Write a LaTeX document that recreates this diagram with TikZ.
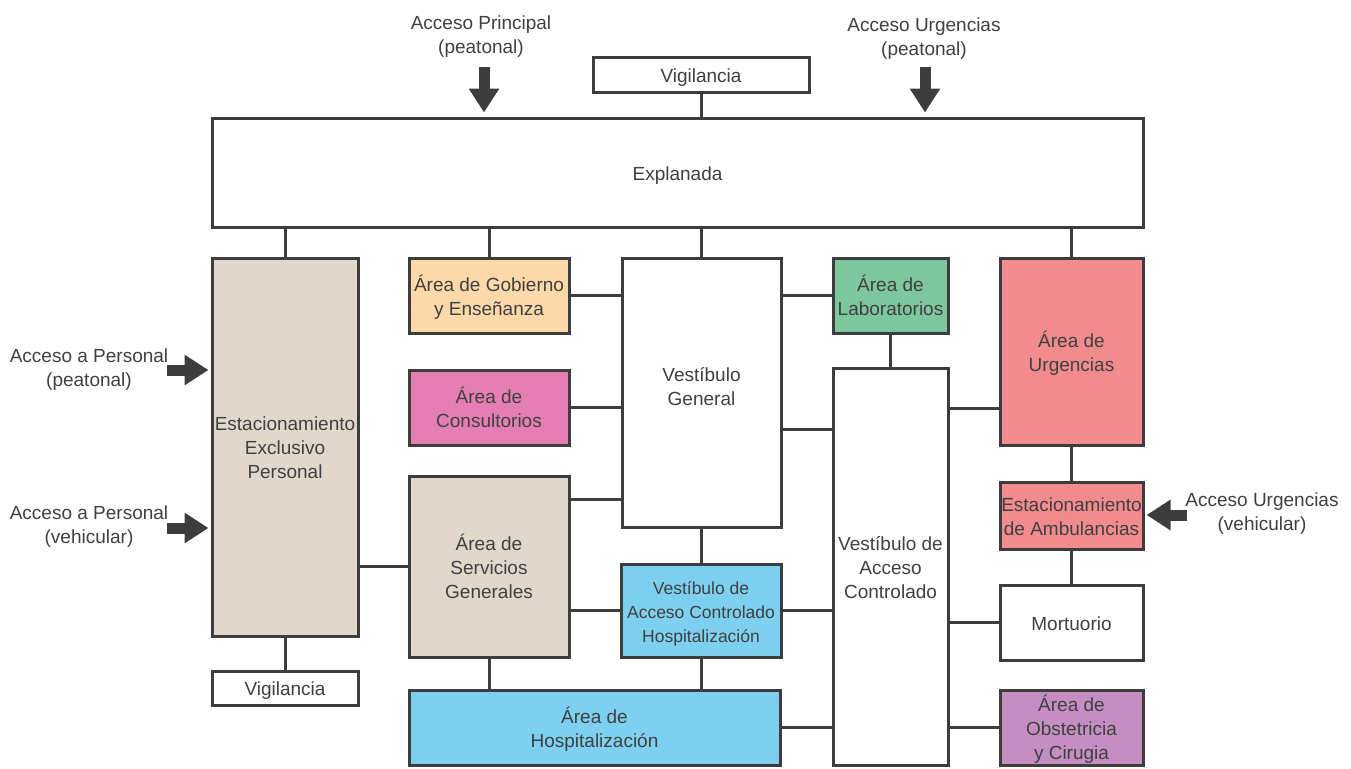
\documentclass[tikz,border=0pt]{standalone}
\usepackage{fontspec}
\setmainfont{Liberation Sans}
\usetikzlibrary{arrows.meta}
\definecolor{linec}{HTML}{3D3D3D}
\definecolor{txtc}{HTML}{404040}
\definecolor{beige}{HTML}{E0D8CB}
\definecolor{orangec}{HTML}{FDD9AA}
\definecolor{pinkc}{HTML}{E57EB3}
\definecolor{greenc}{HTML}{7DC79E}
\definecolor{redc}{HTML}{F28B8E}
\definecolor{bluec}{HTML}{7DD0F0}
\definecolor{purplec}{HTML}{C58EC2}
\tikzset{
  box/.style={draw=linec, line width=3pt, fill=white, rectangle, inner sep=0pt,
    align=center, text=txtc, font=\fontsize{19}{24}\selectfont},
  lbl/.style={align=center, text=txtc, inner sep=0pt, font=\fontsize{19}{24}\selectfont},
  conn/.style={draw=linec, line width=3pt},
  bigarrow/.style={draw=linec, line width=11pt, -{Triangle[width=29pt,length=24pt]}}
}
\newcommand{\lines}[2]{\raisebox{#1}[\height][\depth]{\begin{tabular}{@{}c@{}}#2\end{tabular}}}
\newcommand{\bx}[7]{\node[box, fill=#6, minimum width=#4pt, minimum height=#5pt] (#1) at (#2,#3) {\lines{-3pt}{#7}};}
\begin{document}
\begin{tikzpicture}[x=1pt,y=-1pt]
\useasboundingbox (0,0) rectangle (1351,768);
% boxes
\bx{vigT}{701}{75}{216}{34}{white}{Vigilancia}
\bx{expl}{677.5}{172.5}{931}{109}{white}{Explanada}
\bx{estE}{285}{447}{146}{378}{beige}{Estacionamiento\\Exclusivo\\Personal}
\bx{vigB}{285}{688}{146}{34}{white}{Vigilancia}
\bx{gob}{489}{295.5}{160}{75}{orangec}{Área de Gobierno\\y Enseñanza}
\bx{cons}{489}{407.5}{160}{75}{pinkc}{Área de\\Consultorios}
\bx{serv}{489}{566.5}{160}{181}{beige}{Área de\\Servicios\\Generales}
\node[box, minimum width=159pt, minimum height=269pt] (vgen) at (701.5,392.5) {\lines{3.5pt}{Vestíbulo\\General}};
\node[box, fill=bluec, minimum width=160pt, minimum height=93pt, font=\fontsize{17.5}{24}\selectfont] (vach) at (701,610.5) {\lines{-3pt}{Vestíbulo de\\Acceso Controlado\\Hospitalización}};
\bx{hosp}{594.5}{727.5}{371}{75}{bluec}{Área de\\Hospitalización}
\bx{lab}{890.5}{295.5}{115}{75}{greenc}{Área de\\Laboratorios}
\bx{vac}{890.5}{566.5}{115}{397}{white}{Vestíbulo de\\Acceso\\Controlado}
\bx{urg}{1071.5}{351.5}{143}{187}{redc}{Área de\\Urgencias}
\bx{amb}{1071.5}{515.5}{143}{67}{redc}{Estacionamiento\\de Ambulancias}
\bx{mort}{1071.5}{622.5}{143}{75}{white}{Mortuorio}
\bx{obs}{1071.5}{727.5}{143}{75}{purplec}{Área de\\Obstetricia\\y Cirugia}
% connectors
\draw[conn] (vigT.south) -- (vigT.south |- expl.north);
\draw[conn] (estE.north) -- (estE.north |- expl.south);
\draw[conn] (gob.north) -- (gob.north |- expl.south);
\draw[conn] (vgen.north) -- (vgen.north |- expl.south);
\draw[conn] (urg.north) -- (urg.north |- expl.south);
\draw[conn] (gob.east) -- (gob.east -| vgen.west);
\draw[conn] (cons.east) -- (cons.east -| vgen.west);
\draw[conn] (serv.east |- 0,499) -- (vgen.west |- 0,499);
\draw[conn] (serv.east |- vach.west) -- (vach.west);
\draw[conn] (estE.east |- serv.west) -- (serv.west);
\draw[conn] (estE.south) -- (vigB.north);
\draw[conn] (serv.south) -- (serv.south |- hosp.north);
\draw[conn] (vgen.south) -- (vgen.south |- vach.north);
\draw[conn] (vach.south) -- (vach.south |- hosp.north);
\draw[conn] (vach.east) -- (vach.east -| vac.west);
\draw[conn] (hosp.east) -- (hosp.east -| vac.west);
\draw[conn] (vgen.east |- lab.west) -- (lab.west);
\draw[conn] (vgen.east |- 0,429) -- (vac.west |- 0,429);
\draw[conn] (lab.south) -- (lab.south |- vac.north);
\draw[conn] (vac.east |- 0,408) -- (urg.west |- 0,408);
\draw[conn] (urg.south) -- (amb.north);
\draw[conn] (amb.south) -- (mort.north);
\draw[conn] (vac.east |- mort.west) -- (mort.west);
\draw[conn] (vac.east |- obs.west) -- (obs.west);
% access labels
\node[lbl] (lapp) at (481,37) {Acceso Principal\\(peatonal)};
\node[lbl] (laup) at (924,39) {Acceso Urgencias\\(peatonal)};
\node[lbl] (lpp) at (89,370) {Acceso a Personal\\(peatonal)};
\node[lbl] (lpv) at (89,527) {Acceso a Personal\\(vehicular)};
\node[lbl] (luv) at (1262,514) {Acceso Urgencias\\(vehicular)};
% access arrows
\coordinate (aapp) at (484,67);
\coordinate (aaup) at (925,67);
\coordinate (app) at (167,370);
\coordinate (apv) at (167,528);
\coordinate (auv) at (1187,515);
\draw[bigarrow, shorten >=4pt] (aapp) -- (aapp |- expl.north);
\draw[bigarrow, shorten >=4pt] (aaup) -- (aaup |- expl.north);
\draw[bigarrow, shorten >=2pt] (app) -- (app -| estE.west);
\draw[bigarrow, shorten >=2pt] (apv) -- (apv -| estE.west);
\draw[bigarrow, shorten >=2pt] (auv) -- (auv -| amb.east);
\end{tikzpicture}
\end{document}
